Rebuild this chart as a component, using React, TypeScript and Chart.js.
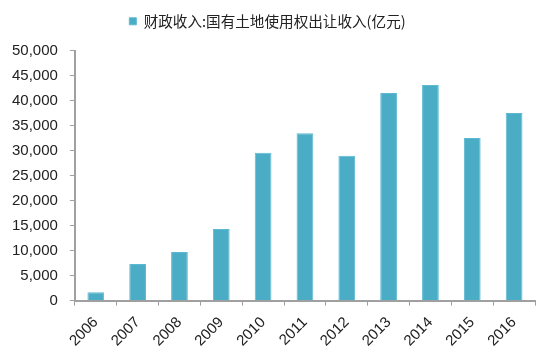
import React, { useEffect, useRef } from "react";
import { Chart, registerables } from "chart.js";

Chart.register(...registerables);

const categories = ["2006", "2007", "2008", "2009", "2010", "2011", "2012", "2013", "2014", "2015", "2016"];
const landRevenue = [1680, 7340, 9740, 14340, 29600, 33500, 29000, 41500, 43100, 32540, 37540];
const seriesLabel = "财政收入:国有土地使用权出让收入(亿元)";
const yTicks = [0, 5000, 10000, 15000, 20000, 25000, 30000, 35000, 40000, 45000, 50000];

const legendGap = {
  id: "legendGap",
  beforeInit(chart: any) {
    const legend = chart.legend;
    if (!legend) return;
    const origFit = legend.fit;
    legend.fit = function () {
      origFit.call(this);
      this.height += 12;
    };
  },
};

export default function App() {
  const ref = useRef<HTMLCanvasElement | null>(null);

  useEffect(() => {
    if (!ref.current) return;
    const chart = new Chart(ref.current, {
      type: "bar",
      data: {
        labels: categories,
        datasets: [
          {
            label: seriesLabel,
            data: landRevenue,
            backgroundColor: "#4BACC6",
            borderColor: "#5DB9D1",
            borderWidth: 1,
            barPercentage: 0.4,
            categoryPercentage: 1,
          },
        ],
      },
      plugins: [legendGap],
      options: {
        animation: false,
        responsive: false,
        maintainAspectRatio: false,
        layout: { padding: { left: 0, right: 15, top: 0, bottom: 1 } },
        plugins: {
          legend: {
            position: "top",
            labels: {
              boxWidth: 7,
              boxHeight: 7,
              padding: 14,
              color: "#222",
              font: { family: "'Noto Sans CJK SC', sans-serif", size: 14.6 },
            },
          },
          tooltip: { enabled: false },
        },
        scales: {
          x: {
            grid: {
              display: true,
              drawOnChartArea: false,
              drawTicks: true,
              tickLength: 5,
              color: "#A0A0A0",
              offset: true,
            },
            border: { color: "#A0A0A0", width: 2 },
            ticks: {
              color: "#222",
              maxRotation: 45,
              minRotation: 45,
              padding: 8,
              font: { family: "'Liberation Sans', Arial, sans-serif", size: 15 },
            },
          },
          y: {
            min: 0,
            max: 50000,
            afterBuildTicks: (axis: any) => {
              axis.ticks = yTicks.map((v) => ({ value: v }));
            },
            grid: {
              display: true,
              drawOnChartArea: false,
              drawTicks: true,
              tickLength: 5,
              color: "#A0A0A0",
            },
            border: { color: "#A0A0A0", width: 2 },
            ticks: {
              color: "#222",
              padding: 12,
              font: { family: "'Liberation Sans', Arial, sans-serif", size: 15 },
              callback: (v: any) => Number(v).toLocaleString("en-US"),
            },
          },
        },
      },
    });
    return () => chart.destroy();
  }, []);

  return (
    <div style={{ position: "fixed", left: 0, top: 0, width: 550, height: 359, background: "#fff" }}>
      <canvas ref={ref} width={550} height={359} style={{ width: 550, height: 359 }} />
    </div>
  );
}
